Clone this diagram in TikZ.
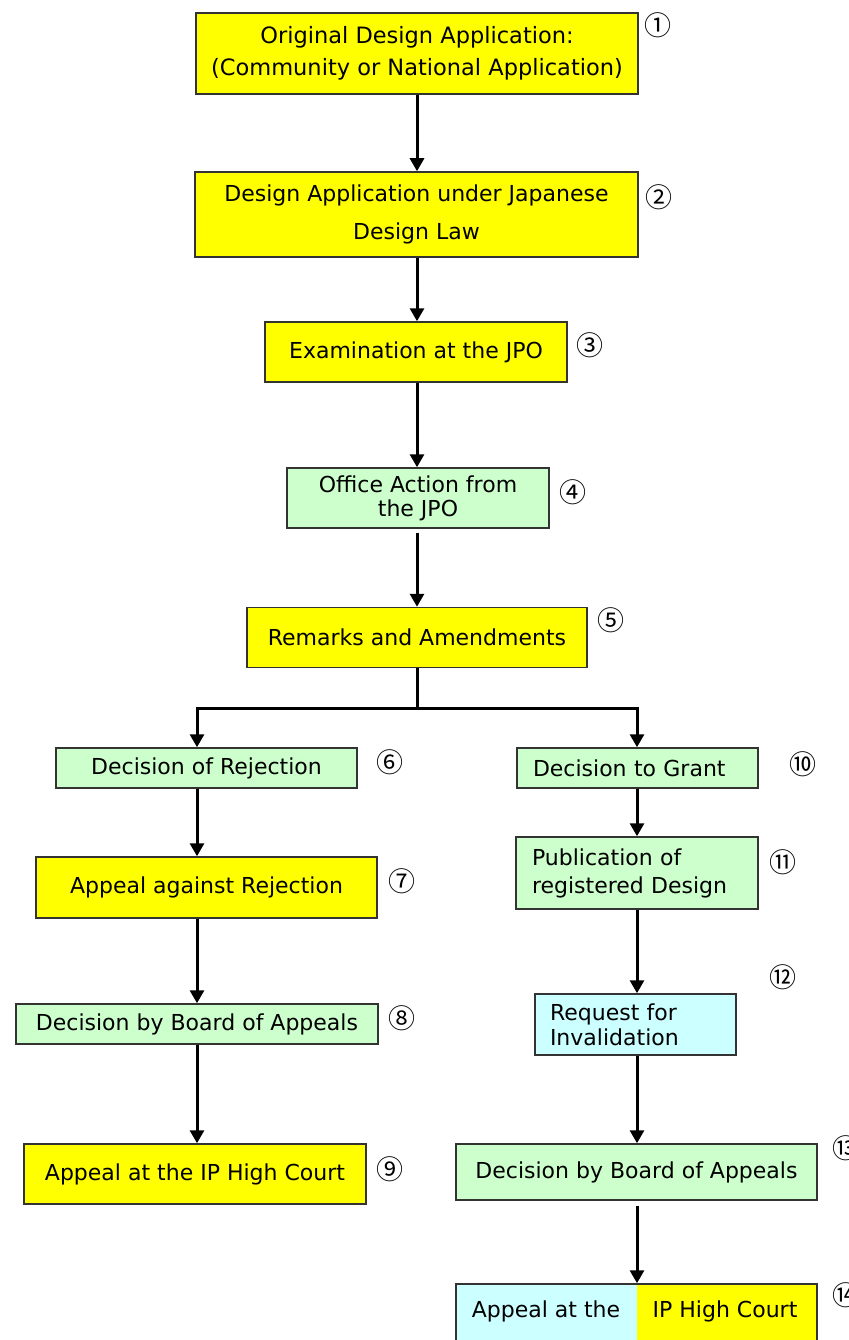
\documentclass[tikz,border=0pt]{standalone}
\usepackage{fontspec}
\setmainfont{DejaVu Sans}
\newfontfamily\cjkfont{Noto Sans CJK JP}
\usetikzlibrary{arrows.meta}
\definecolor{yel}{HTML}{FFFF00}
\definecolor{grn}{HTML}{CCFFCC}
\definecolor{cyn}{HTML}{CCFFFF}
\definecolor{edgec}{HTML}{333333}
\begin{document}
\begin{tikzpicture}[x=1pt,y=-1pt,
  box/.style={draw=edgec, line width=1.5pt, inner sep=0pt, align=center, font=\fontsize{22}{26}\selectfont},
  lbox/.style={box, align=left, inner xsep=16pt},
  num/.style={font=\cjkfont\fontsize{27}{27}\selectfont, inner sep=0pt},
  txt/.style={font=\fontsize{22}{26}\selectfont, inner sep=0pt, anchor=base},
  arr/.style={line width=3pt, -{Triangle[width=14pt,length=13pt]}},
  conn/.style={line width=3pt}]
\useasboundingbox (0,0) rectangle (848,1340);
\clip (0,0) rectangle (848,1340);
\fill[white] (0,0) rectangle (848,1340);

\coordinate (cx) at (417,0);
\coordinate (lx) at (197,0);
\coordinate (rx) at (637,0);
\coordinate (jn) at (417,708);

% centre column
\node[box, fill=yel, minimum width=442pt, minimum height=81pt, font=\fontsize{22.5}{32}\selectfont] (n1) at (417,53.5)
  {Original Design Application:\\(Community or National Application)};
\node[box, fill=yel, minimum width=443pt, minimum height=85pt, font=\fontsize{22}{38}\selectfont] (n2) at (416.5,214.5)
  {Design Application under Japanese\\Design Law};
\node[box, fill=yel, minimum width=302pt, minimum height=60pt] (n3) at (416,352)
  {Examination at the JPO};
\node[box, fill=grn, minimum width=262pt, minimum height=60pt, font=\fontsize{22}{24}\selectfont] (n4) at (418,498)
  {Office Action from\\the JPO};
\node[box, fill=yel, minimum width=340pt, minimum height=60pt] (n5) at (417,637.5)
  {Remarks and Amendments};

% left column
\node[box, fill=grn, minimum width=301pt, minimum height=40pt] (n6) at (206.5,768)
  {Decision of Rejection};
\node[box, fill=yel, minimum width=341pt, minimum height=61pt] (n7) at (206.5,887.5)
  {Appeal against Rejection};
\node[box, fill=grn, minimum width=362pt, minimum height=40pt] (n8) at (197,1024)
  {Decision by Board of Appeals};
\node[box, fill=yel, minimum width=342pt, minimum height=60pt] (n9) at (195,1174)
  {Appeal at the IP High Court};

% right column
\node[lbox, fill=grn, text width=209pt, minimum height=40pt] (n10) at (637.5,768)
  {Decision to Grant};
\node[lbox, fill=grn, text width=210pt, minimum height=72pt, font=\fontsize{22}{28}\selectfont] (n11) at (637,873)
  {Publication of\\registered Design};
\node[lbox, fill=cyn, inner xsep=15pt, text width=171pt, minimum height=61pt, font=\fontsize{22}{25}\selectfont] (n12) at (635.5,1024.5)
  {Request for\\Invalidation};
\node[box, fill=grn, minimum width=361pt, minimum height=56pt] (n13) at (636.5,1172)
  {Decision by Board of Appeals};
\node[box, minimum width=361pt, minimum height=80pt,
  path picture={\fill[cyn] (path picture bounding box.south west) rectangle (path picture bounding box.north);
                \fill[yel] (path picture bounding box.north) rectangle (path picture bounding box.south east);}] (n14) at (636.5,1324) {};
\node[txt] (t14a) at (546,1317) {Appeal at the};
\node[txt] (t14b) at (725,1317) {IP High Court};

% circled numbers
\node[num] (c1) at (658,25) {①};
\node[num] (c2) at (659,197) {②};
\node[num] (c3) at (590,345) {③};
\node[num] (c4) at (573,492) {④};
\node[num] (c5) at (611,620) {⑤};
\node[num] (c6) at (390,762) {⑥};
\node[num] (c7) at (402,881) {⑦};
\node[num] (c8) at (402,1018) {⑧};
\node[num] (c9) at (390,1169) {⑨};
\node[num] (c10) at (803,764) {⑩};
\node[num] (c11) at (783,862) {⑪};
\node[num] (c12) at (783,977) {⑫};
\node[num, anchor=west] (c13) at (832,1148) {⑬};
\node[num, anchor=west] (c14) at (832,1295) {⑭};

% connectors
\draw[arr] (n1.south -| cx) -- (n2.north -| cx);
\draw[arr] (n2.south -| cx) -- (n3.north -| cx);
\draw[arr] (n3.south -| cx) -- (n4.north -| cx);
\draw[arr, shorten <=4pt] (n4.south -| cx) -- (n5.north -| cx);
\draw[conn] (n5.south -| cx) -- (jn);
\draw[arr] (jn) -| (n6.north -| lx);
\draw[arr] (jn) -| (n10.north -| rx);
\draw[arr] (n6.south -| lx) -- (n7.north -| lx);
\draw[arr] (n7.south -| lx) -- (n8.north -| lx);
\draw[arr] (n8.south -| lx) -- (n9.north -| lx);
\draw[arr] (n10.south -| rx) -- (n11.north -| rx);
\draw[arr] (n11.south -| rx) -- (n12.north -| rx);
\draw[arr] (n12.south -| rx) -- (n13.north -| rx);
\draw[arr, shorten <=5pt] (n13.south -| rx) -- (n14.north -| rx);
\end{tikzpicture}
\end{document}
